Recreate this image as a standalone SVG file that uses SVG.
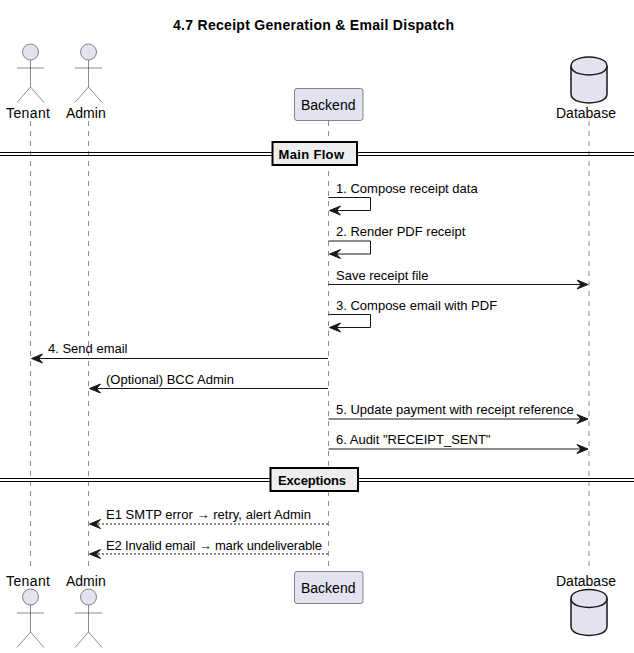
<svg xmlns="http://www.w3.org/2000/svg" width="634" height="653" viewBox="0 0 634 653">
<style>
text{font-family:"Liberation Sans",Arial,sans-serif;fill:#000}
.t{font-size:14px;font-weight:bold}
.p{font-size:14px}
.m{font-size:13px}
.d{font-size:13px;font-weight:bold}
.life{stroke:#181818;stroke-width:.5;stroke-dasharray:5 5;fill:none}
.fill{fill:#E2E2F0;stroke:#181818;stroke-width:.5}
.act{fill:#E2E2F0;stroke:#181818;stroke-width:.5}
.cyl{fill:#E2E2F0;stroke:#181818;stroke-width:1.5}
.line{stroke:#181818;stroke-width:1;fill:none}
.dash{stroke:#181818;stroke-width:1;fill:none;stroke-dasharray:2 2}
.dv{stroke:#000;stroke-width:1;fill:none}
.dbox{fill:#EEE;stroke:#000;stroke-width:2}
.ah{fill:#181818;stroke:#181818;stroke-width:1}
</style>
<defs>
<g id="actor"><circle cx="0" cy="8" r="8" class="act"/><path d="M0 16V43M-13.500 24H13.500M-13.500 58.500L0 43L13.500 58.500" class="act" style="fill:none"/></g>
<g id="cyl"><path d="M571 66C571 57 589 57 589 57C589 57 607 57 607 66V94C607 103 589 103 589 103C589 103 571 103 571 94Z" class="cyl"/><path d="M571 66C571 75 589 75 589 75C589 75 607 75 607 66" class="cyl" style="fill:none"/></g>
<path id="l" d="M0 0L11 -4.500L7 0L11 4.500Z" class="ah"/>
</defs>
<text class="t" x="173" y="30" textLength="281">4.7 Receipt Generation &amp; Email Dispatch</text>
<g id="connectors">
<path class="life" d="M30.500 121V571"/>
<path class="life" d="M88.500 121V571"/>
<path class="life" d="M328.500 121V571"/>
<path class="life" d="M589 121V571"/>
<path class="line" d="M328.500 197.500H370.500V210.500H332"/><use href="#l" transform="translate(329.500,210.500)"/><text class="m" x="336" y="193">1. Compose receipt data</text>
<path class="line" d="M328.500 241H370.500V254H332"/><use href="#l" transform="translate(329.500,254)"/><text class="m" x="336" y="236">2. Render PDF receipt</text>
<path class="line" d="M328.500 284.500H585"/><use href="#l" transform="translate(588,284.500) scale(-1,1)"/><text class="m" x="336" y="280">Save receipt file</text>
<path class="line" d="M328.500 314.500H370.500V327.500H332"/><use href="#l" transform="translate(329.500,327.500)"/><text class="m" x="336" y="310">3. Compose email with PDF</text>
<path class="line" d="M328 358.500H34"/><use href="#l" transform="translate(31.500,358.500)"/><text class="m" x="48" y="353">4. Send email</text>
<path class="line" d="M328 388.500H92"/><use href="#l" transform="translate(89.500,388.500)"/><text class="m" x="106" y="384">(Optional) BCC Admin</text>
<path class="line" d="M328.500 419H585"/><use href="#l" transform="translate(588,419) scale(-1,1)"/><text class="m" x="336" y="414">5. Update payment with receipt reference</text>
<path class="line" d="M328.500 449H585"/><use href="#l" transform="translate(588,449) scale(-1,1)"/><text class="m" x="336" y="444">6. Audit "RECEIPT_SENT"</text>
<path class="dash" d="M328 524H92"/><use href="#l" transform="translate(89.500,524)"/><text class="m" x="106" y="519" textLength="205">E1 SMTP error → retry, alert Admin</text>
<path class="dash" d="M328 554H92"/><use href="#l" transform="translate(89.500,554)"/><text class="m" x="106" y="550" textLength="216">E2 Invalid email → mark undeliverable</text>
</g>
<g id="divider-main"><path class="dv" d="M0 152.500H634M0 155.500H634"/><rect class="dbox" x="272.500" y="142" width="84.500" height="23"/><text class="d" x="278.500" y="159" textLength="65.500">Main Flow</text></g>
<g id="divider-exceptions"><path class="dv" d="M0 478.500H634M0 481.500H634"/><rect class="dbox" x="270.500" y="468" width="87.500" height="23"/><text class="d" x="278" y="485" textLength="68">Exceptions</text></g>
<g id="tenant-top"><use href="#actor" transform="translate(30.500,44)"/><text class="p" x="6" y="118" textLength="44">Tenant</text></g>
<g id="admin-top"><use href="#actor" transform="translate(88.500,44)"/><text class="p" x="66" y="118">Admin</text></g>
<g id="backend-top"><rect class="fill" x="294.500" y="88.500" width="68.500" height="32" rx="2.500"/><text class="p" x="301" y="110">Backend</text></g>
<g id="database-top"><use href="#cyl"/><text class="p" x="556" y="118">Database</text></g>
<g id="tenant-bottom"><text class="p" x="6" y="586" textLength="44">Tenant</text><use href="#actor" transform="translate(30.500,589)"/></g>
<g id="admin-bottom"><text class="p" x="66" y="586">Admin</text><use href="#actor" transform="translate(88.500,589)"/></g>
<g id="backend-bottom"><rect class="fill" x="294.500" y="571.500" width="68.500" height="32" rx="2.500"/><text class="p" x="301" y="593">Backend</text></g>
<g id="database-bottom"><text class="p" x="556" y="586">Database</text><use href="#cyl" transform="translate(0,532.500)"/></g>
</svg>
